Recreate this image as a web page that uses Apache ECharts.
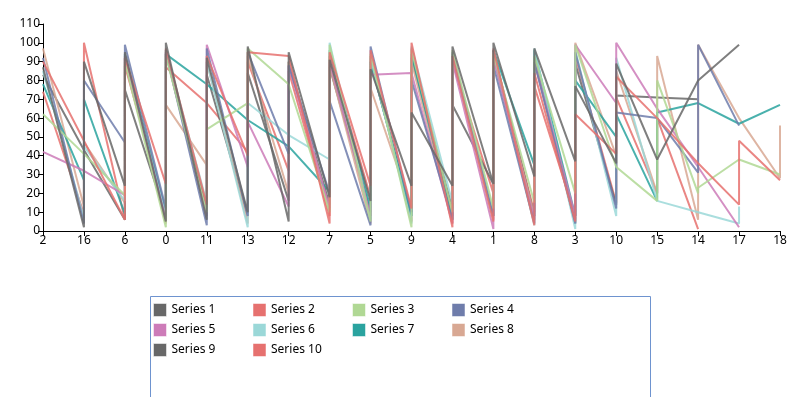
<!DOCTYPE html>
<html>
<head>
<meta charset="utf-8">
<script src="https://cdn.jsdelivr.net/npm/echarts@6/dist/echarts.min.js"></script>
<style>
  html, body { margin: 0; padding: 0; background: #fff; }
  #main { width: 794px; height: 397px; }
</style>
</head>
<body>
<div id="main"></div>
<script>
// x categories, in the order they appear on the axis
var categories = ["2", "16", "6", "0", "11", "13", "12", "7", "5", "9", "4", "1", "8", "3", "10", "15", "14", "17", "18"];
var yTicks = { min: 0, max: 110, step: 10 };

var seriesNames = ["Series 1", "Series 2", "Series 3", "Series 4", "Series 5", "Series 6", "Series 7", "Series 8", "Series 9", "Series 10"];
var seriesColors = ["#686868", "#e6716f", "#b0d894", "#6f7dab", "#cd7bb8", "#9bd8d8", "#2aa39f", "#d8a893", "#686868", "#e6716f"];

// values visited at each category, in order (one inner list per category)
var s1 = [[87], [2, 90], [24, 95], [5, 100], [6, 92], [10, 98], [5, 95], [18, 91], [16, 86], [24, 63], [24, 98], [25, 100], [29, 97], [37, 77], [36, 89], [38], [80], [99], []];
var s2 = [[90], [48], [6, 92], [25, 97], [14, 93], [40, 95], [93], [4, 95], [24, 96], [12, 100], [2, 93], [5, 97], [3, 84], [5, 62], [41, 82], [60], [36], [14, 48], [27]];
var s3 = [[62], [41], [19, 90], [2, 93], [10, 54], [68, 97], [78], [10, 99], [5, 94], [2, 96], [10, 96], [12, 94], [15, 93], [20, 99], [34], [16, 80], [20, 23], [38], [30]];
var s4 = [[92], [4, 80], [47, 99], [12, 95], [3, 97], [8, 95], [41, 88], [20, 69], [3, 98], [10, 80], [6, 95], [8, 88], [4, 90], [4, 95], [12, 63], [60], [31, 99], [56], []];
var s5 = [[42], [32], [19, 93], [6, 94], [8, 99], [34, 58], [13, 88], [12, 90], [8, 83], [84], [4, 90], [1, 92], [6, 90], [8, 99], [68, 100], [65], [34], [2], []];
var s6 = [[85], [7, 45], [16, 92], [8, 96], [15, 90], [2, 68], [51], [38, 100], [6, 92], [4, 98], [15, 92], [10, 95], [3, 97], [1, 96], [8, 92], [16], [10], [4, 13], []];
var s7 = [[78], [27, 70], [9, 94], [10, 94], [78], [59], [45], [21, 96], [12, 90], [8, 94], [6, 93], [8, 96], [35, 96], [8, 80], [50, 62], [16, 63], [68], [57], [67]];
var s8 = [[97], [13, 47], [15, 92], [4, 67], [35, 90], [4, 93], [20, 90], [11, 88], [4, 76], [12, 90], [4, 94], [6, 93], [8, 90], [6, 100], [40, 85], [20, 93], [6, 99], [60], [28, 56]];
var s9 = [[83], [43], [6, 75], [8, 96], [12, 83], [8, 84], [16, 90], [14, 87], [10, 90], [8, 92], [12, 67], [25, 96], [8, 93], [4, 89], [14, 72], [71], [70], [], []];
var s10 = [[74], [9, 100], [6, 88], [10, 87], [68], [42, 90], [32, 85], [8, 93], [18, 93], [5, 97], [8, 90], [20, 94], [10, 77], [8, 93], [15, 71], [20, 60], [1], [], []];

var allValues = [s1, s2, s3, s4, s5, s6, s7, s8, s9, s10];

function toPoints(perCat) {
  var pts = [];
  perCat.forEach(function (vals, i) {
    vals.forEach(function (v) { pts.push([i, v]); });
  });
  return pts;
}

var labelFont = { color: "#000", fontSize: 12, fontFamily: "Noto Sans" };

var myChart = echarts.init(document.getElementById("main"), null, { renderer: "canvas" });

myChart.setOption({
  animation: false,
  color: seriesColors,
  grid: { left: 43, right: 14, top: 24, bottom: 166 },
  xAxis: {
    type: "category",
    data: categories,
    boundaryGap: false,
    axisLine: { lineStyle: { color: "#000", width: 1 } },
    axisTick: { show: true, length: 5, lineStyle: { color: "#000" } },
    axisLabel: Object.assign({ margin: 4, interval: 0 }, labelFont),
    splitLine: { show: false }
  },
  yAxis: {
    type: "value",
    min: yTicks.min,
    max: yTicks.max,
    interval: yTicks.step,
    axisLine: { show: true, lineStyle: { color: "#000", width: 1 } },
    axisTick: { show: true, length: 5, lineStyle: { color: "#000" } },
    axisLabel: Object.assign({ margin: 3 }, labelFont),
    splitLine: { show: false }
  },
  legend: {
    data: seriesNames,
    left: 153,
    top: 300,
    width: 430,
    padding: 0,
    itemGap: 0,
    itemWidth: 13,
    itemHeight: 13,
    icon: "rect",
    textStyle: { color: "#000", fontSize: 12, fontFamily: "Noto Sans", width: 81, height: 20, lineHeight: 20, padding: [0, 0, 0, 0] },
    itemStyle: { borderColor: "rgba(255,255,255,0.5)", borderWidth: 1 }
  },
  graphic: [
    {
      type: "rect",
      silent: true,
      shape: { x: 150.5, y: 296.5, width: 500, height: 110 },
      style: { fill: "none", stroke: "#6e93cf", lineWidth: 1 }
    }
  ],
  series: allValues.map(function (vals, k) {
    return {
      name: seriesNames[k],
      type: "line",
      z: 2 + (allValues.length - k),
      data: toPoints(vals),
      showSymbol: false,
      symbol: "none",
      lineStyle: { width: 2, color: seriesColors[k], opacity: 0.85 },
      itemStyle: { color: seriesColors[k] }
    };
  })
});
</script>
</body>
</html>
